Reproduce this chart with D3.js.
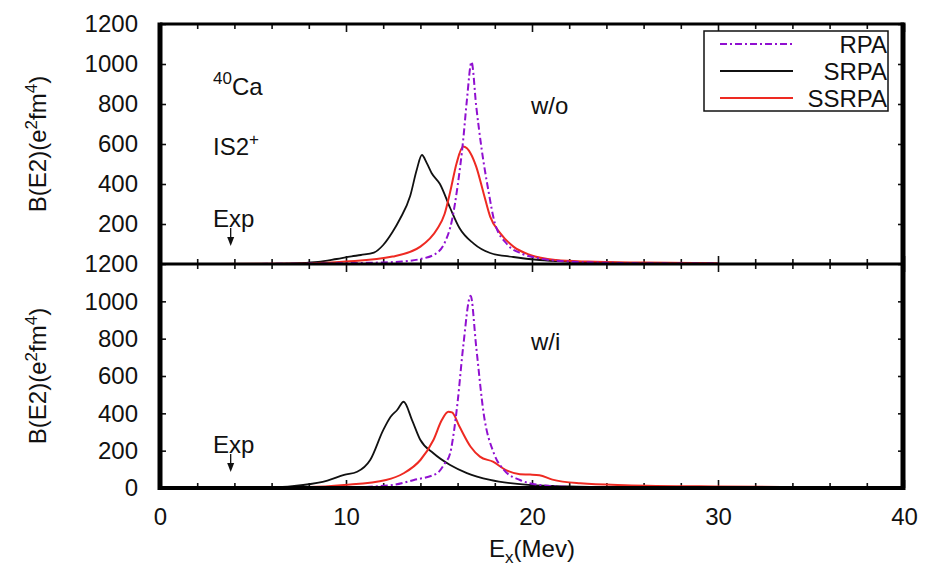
<!DOCTYPE html>
<html>
<head>
<meta charset="utf-8">
<script src="https://cdn.jsdelivr.net/npm/d3@7"></script>
<style>
  body { margin: 0; background: #fff; }
  svg text { font-family: "Liberation Sans", Arial, Helvetica, sans-serif; fill: #111; }
</style>
</head>
<body>
<svg id="chart" width="927" height="570"></svg>
<script>
// ---- data ----
const xMajorTicks = [0, 10, 20, 30, 40];
const xMinorTicks = [2, 4, 6, 8, 12, 14, 16, 18, 22, 24, 26, 28, 32, 34, 36, 38];
const yTicksTop = [200, 400, 600, 800, 1000, 1200];
const yTicksBottom = [0, 200, 400, 600, 800, 1000, 1200];
const seriesNames = ['RPA', 'SRPA', 'SSRPA'];

// w/o panel  [E (MeV), B(E2)]
const rpaWo = [[3,0],[8,2],[10,4],[12,8],[13,12],[14,25],[14.8,50],[15.3,105],[15.7,220],[16.0,390],[16.3,620],[16.5,820],[16.75,1010],[17.0,790],[17.3,570],[17.65,370],[18.0,205],[18.65,100],[19.5,50],[20.4,28],[22,12],[25,5],[30,2]];
const srpaWo = [[3,0],[6,1],[7.5,4],[8.5,10],[9.5,25],[10.3,38],[10.8,45],[11.5,57],[12,95],[12.5,160],[12.9,225],[13.45,340],[13.8,470],[14.08,545],[14.35,503],[14.6,455],[15.05,400],[15.6,280],[16.1,180],[16.85,103],[17.75,55],[19,35],[20.4,20],[22,12],[25,6],[28,3],[30,2]];
const ssrpaWo = [[3,0],[8,3],[10,12],[12.5,37],[14,87],[14.9,175],[15.3,250],[15.6,360],[15.95,505],[16.3,587],[16.7,553],[17.0,487],[17.4,353],[17.75,237],[18.3,153],[19,87],[19.9,45],[21.3,20],[23,12],[26,7],[30,4]];

// w/i panel
const rpaWi = [[3,0],[10,3],[12.5,16],[13.65,43],[14.9,79],[15.3,130],[15.6,186],[15.8,300],[16.0,460],[16.3,757],[16.7,1030],[17.0,757],[17.4,400],[17.95,186],[18.5,96],[19.35,43],[20.4,16],[22,6],[25,3],[30,1],[38,0]];
const srpaWi = [[3,0],[6,3],[7.7,16],[9,40],[9.9,70],[10.6,87],[11.3,150],[12.0,310],[12.4,382],[12.75,418],[13.1,462],[13.55,364],[14.0,257],[14.7,186],[15.6,123],[16.5,80],[17.75,43],[19.9,16],[22,8],[25,4],[30,2],[35,1],[38,0]];
const ssrpaWi = [[3,0],[8,5],[9.9,16],[12.15,43],[13.1,79],[14.0,150],[14.7,257],[15.15,364],[15.5,409],[15.7,405],[16.1,329],[16.7,221],[17.2,168],[17.9,141],[18.6,96],[19.35,74],[19.9,72],[20.4,68],[21.1,45],[22.6,25],[25,15],[30,8],[35,5],[38.5,3]];

const expEnergy = 3.8;

// ---- layout ----
const svg = d3.select('#chart');
const colors = { RPA: '#9010d0', SRPA: '#111111', SSRPA: '#ee2a22' };
const dashes = { RPA: '7,3,2,3', SRPA: null, SSRPA: null };

const x = d3.scaleLinear().domain([0, 40]).range([160, 904]);
const yTop = d3.scaleLinear().domain([0, 1200]).range([264, 24]);
const yBot = d3.scaleLinear().domain([0, 1200]).range([488, 264]);

const panels = [
  { y: yTop, data: { RPA: rpaWo, SRPA: srpaWo, SSRPA: ssrpaWo }, ticks: yTicksTop, label: 'w/o' },
  { y: yBot, data: { RPA: rpaWi, SRPA: srpaWi, SSRPA: ssrpaWi }, ticks: yTicksBottom, label: 'w/i' }
];

function styleAxis(g, fontSize) {
  g.select('.domain').remove();
  g.selectAll('line').attr('stroke', '#111').attr('stroke-width', 1.6);
  g.selectAll('text').attr('font-size', fontSize).attr('fill', '#111')
    .style('font-family', '"Liberation Sans", Arial, sans-serif');
}

panels.forEach((p, i) => {
  const [y0, y1] = p.y.range();

  svg.append('clipPath').attr('id', 'clip' + i)
    .append('rect').attr('x', x(0)).attr('y', y1).attr('width', x(40) - x(0)).attr('height', y0 - y1);

  // left axis
  svg.append('g').attr('transform', `translate(${x(0)},0)`)
    .call(d3.axisLeft(p.y).tickValues(p.ticks).tickSizeInner(-6).tickSizeOuter(0)
      .tickPadding(22).tickFormat(d3.format('d')))
    .call(g => styleAxis(g, 24));
  // right axis
  svg.append('g').attr('transform', `translate(${x(40)},0)`)
    .call(d3.axisRight(p.y).tickValues(p.ticks).tickSizeInner(-6).tickSizeOuter(0).tickFormat(''))
    .call(g => styleAxis(g, 0));

  // bottom of panel: ticks pointing up
  svg.append('g').attr('transform', `translate(0,${y0})`)
    .call(d3.axisBottom(x).tickValues(xMajorTicks).tickSizeInner(-8).tickSizeOuter(0)
      .tickPadding(20).tickFormat(i === 1 ? d3.format('d') : ''))
    .call(g => styleAxis(g, 24));
  svg.append('g').attr('transform', `translate(0,${y0})`)
    .call(d3.axisBottom(x).tickValues(xMinorTicks).tickSizeInner(-5).tickSizeOuter(0).tickFormat(''))
    .call(g => styleAxis(g, 0));
  // top of panel: ticks pointing down
  svg.append('g').attr('transform', `translate(0,${y1})`)
    .call(d3.axisTop(x).tickValues(xMajorTicks).tickSizeInner(-8).tickSizeOuter(0).tickFormat(''))
    .call(g => styleAxis(g, 0));
  svg.append('g').attr('transform', `translate(0,${y1})`)
    .call(d3.axisTop(x).tickValues(xMinorTicks).tickSizeInner(-5).tickSizeOuter(0).tickFormat(''))
    .call(g => styleAxis(g, 0));

  // curves
  const line = d3.line().x(d => x(d[0])).y(d => p.y(d[1])).curve(d3.curveMonotoneX);
  const plot = svg.append('g').attr('clip-path', `url(#clip${i})`);
  ['SRPA', 'SSRPA', 'RPA'].forEach(name => {
    plot.append('path')
      .datum(p.data[name])
      .attr('d', line)
      .attr('fill', 'none')
      .attr('stroke', colors[name])
      .attr('stroke-width', name === 'SRPA' ? 1.8 : 2)
      .attr('stroke-dasharray', dashes[name])
      .attr('stroke-linejoin', 'round');
  });

  // y label
  const lab = svg.append('text')
    .attr('transform', `translate(46,${(y0 + y1) / 2}) rotate(-90)`)
    .attr('text-anchor', 'middle')
    .attr('font-size', 24);
  lab.append('tspan').text('B(E2)(e');
  lab.append('tspan').attr('dy', -9).attr('font-size', 17).text('2');
  lab.append('tspan').attr('dy', 9).text('fm');
  lab.append('tspan').attr('dy', -9).attr('font-size', 17).text('4');
  lab.append('tspan').attr('dy', 9).text(')');

  // panel label
  svg.append('text').attr('x', 531).attr('y', i === 0 ? 114 : 350)
    .attr('font-size', 24).text(p.label);

  // Exp marker
  const expY = i === 0 ? 227 : 453;
  svg.append('text').attr('x', 213).attr('y', expY).attr('font-size', 24).text('Exp');
  const ax = x(expEnergy);
  svg.append('line').attr('x1', ax).attr('x2', ax).attr('y1', expY + 1).attr('y2', expY + 12)
    .attr('stroke', '#111').attr('stroke-width', 1.3);
  svg.append('path').attr('d', `M${ax - 3.5},${expY + 10} L${ax + 3.5},${expY + 10} L${ax},${expY + 19} Z`)
    .attr('fill', '#111');
});

// frame
const frame = svg.append('g').attr('stroke', '#000');
frame.append('line').attr('x1', x(0)).attr('x2', x(0)).attr('y1', yTop(1200) - 1.5).attr('y2', yBot(0) + 2).attr('stroke-width', 5);
frame.append('line').attr('x1', x(40) - 1).attr('x2', x(40) - 1).attr('y1', yTop(1200) - 1.5).attr('y2', yBot(0) + 2).attr('stroke-width', 5);
frame.append('line').attr('x1', x(0)).attr('x2', x(40)).attr('y1', yTop(1200)).attr('y2', yTop(1200)).attr('stroke-width', 3);
frame.append('line').attr('x1', x(0)).attr('x2', x(40)).attr('y1', yTop(0)).attr('y2', yTop(0)).attr('stroke-width', 3);
frame.append('line').attr('x1', x(0)).attr('x2', x(40)).attr('y1', yBot(0)).attr('y2', yBot(0)).attr('stroke-width', 4);

// annotations top panel
const ca = svg.append('text').attr('x', 213).attr('y', 95).attr('font-size', 24);
ca.append('tspan').attr('font-size', 17).attr('dy', -11).text('40');
ca.append('tspan').attr('dy', 11).text('Ca');
const is2 = svg.append('text').attr('x', 213).attr('y', 155).attr('font-size', 24);
is2.append('tspan').text('IS2');
is2.append('tspan').attr('font-size', 17).attr('dy', -10).text('+');

// x label
const xl = svg.append('text').attr('x', 532).attr('y', 557).attr('text-anchor', 'middle').attr('font-size', 24);
xl.append('tspan').text('E');
xl.append('tspan').attr('font-size', 17).attr('dy', 6).text('x');
xl.append('tspan').attr('dy', -6).text('(Mev)');

// legend
const legend = svg.append('g');
legend.append('rect').attr('x', 704).attr('y', 31).attr('width', 184).attr('height', 80)
  .attr('fill', '#fff').attr('stroke', '#111').attr('stroke-width', 1.5);
seriesNames.forEach((name, k) => {
  const ly = 44 + k * 27;
  legend.append('line').attr('x1', 720).attr('x2', 793).attr('y1', ly).attr('y2', ly)
    .attr('stroke', colors[name]).attr('stroke-width', 2).attr('stroke-dasharray', dashes[name]);
  legend.append('text').attr('x', 887).attr('y', ly + 9).attr('text-anchor', 'end')
    .attr('font-size', 24).text(name);
});
</script>
</body>
</html>
